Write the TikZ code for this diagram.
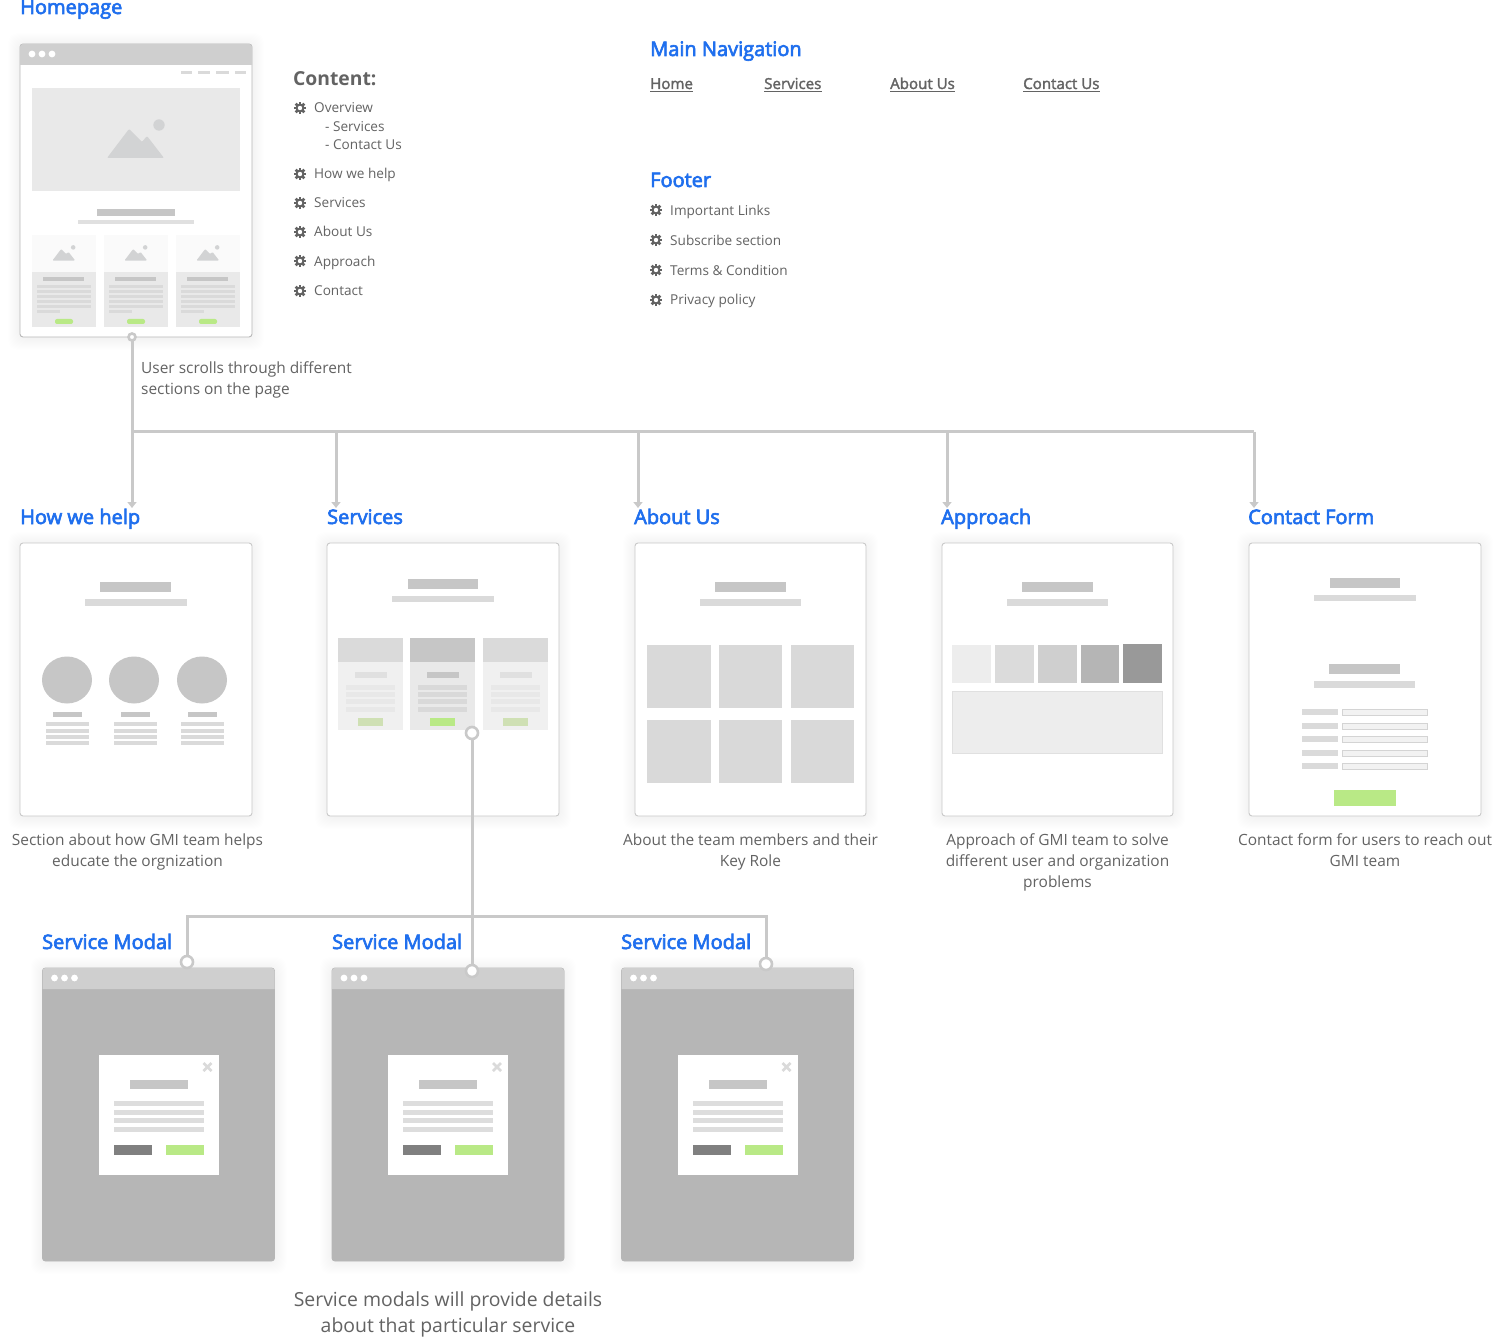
\documentclass[tikz,border=0pt]{standalone}
\usepackage{fontspec}
\setmainfont{Open Sans}
\newfontfamily\headfont[FakeBold=3.2]{Open Sans}
\newfontfamily\navfont[FakeBold=2]{Open Sans}
\usetikzlibrary{arrows.meta,calc}
\definecolor{headblue}{HTML}{1F6FEE}
\definecolor{bodytext}{HTML}{636363}
\definecolor{conn}{HTML}{C9C9C9}
\definecolor{bar}{HTML}{CFCFCF}
\definecolor{titlegrey}{HTML}{C6C6C6}
\definecolor{subgrey}{HTML}{DADADA}
\definecolor{linegrey}{HTML}{DDDDDD}
\definecolor{hero}{HTML}{E9E9E9}
\definecolor{mount}{HTML}{D2D3D4}
\definecolor{wfgreen}{HTML}{B9E986}
\definecolor{palegreen}{HTML}{CFE0B4}
\definecolor{dim}{HTML}{B6B6B6}
\tikzset{
  framebox/.style={draw=#1,fill=white,rounded corners=3pt,line width=0.9pt,inner sep=0pt,outer sep=0pt},
  framebox/.default={conn},
  head/.style={anchor=base west,inner sep=0pt,text=headblue,font=\headfont\fontsize{20}{24}\selectfont},
  body/.style={anchor=base west,inner sep=0pt,text=bodytext,font=\fontsize{13.6}{17}\selectfont},
  para/.style={anchor=base,inner sep=0pt,text=bodytext,font=\fontsize{15.45}{19}\selectfont},
  navlink/.style={anchor=base west,inner sep=0pt,text=bodytext,font=\navfont\fontsize{15.1}{18}\selectfont},
  port/.style={circle,draw=conn,fill=white,line width=2.6pt,inner sep=0pt,outer sep=0pt,minimum size=#1},
  wire/.style={draw=conn,line width=3pt},
  arrowwire/.style={wire,-{Triangle[width=9pt,length=6pt]}},
}
\newcount\tcnt
\newcommand{\lab}[4]{\global\advance\tcnt by 1 \node[#1] (txt\the\tcnt) at (#2,#3) {#4};}
\newcommand{\RR}[5]{\fill[#5] (#1,#2) rectangle (#3,#4);}
% frame: name, x, y, w, h, stroke
\newcommand{\wf}[6][conn]{%
  \begin{scope}[shift={(#3,#4)}]
    \foreach \s in {1,...,12}{\fill[black,opacity=0.004,rounded corners=10pt] (-\s,-\s+1) rectangle (#5+\s,#6+\s+1);}
    \node[framebox=#1,minimum width=#5pt,minimum height=#6pt] (#2) at (#5/2,#6/2) {};
  \end{scope}}
\newcommand{\windowbar}[3]{%
  \begin{scope}[shift={(#1,#2)}]
    \fill[bar] (0,21) [rounded corners=3pt] -- (0,0) -- (#3,0) [sharp corners] -- (#3,21) -- cycle;
    \foreach \d in {12,22,32}{\fill[white] (\d,10) circle[radius=3.4];}
  \end{scope}}
\newcommand{\mountain}[3]{%
  \begin{scope}[shift={(#1,#2)},scale=#3]
    \fill[mount,rounded corners=1pt] (-29,19) -- (-7,-10) -- (6,3) -- (11,-3) -- (28,19) -- cycle;
    \fill[mount] (23,-14) circle[radius=5.7];
  \end{scope}}
\newcommand{\homecard}[1]{%
  \begin{scope}[shift={(#1,0)}]
    \RR{0}{235}{64}{272}{fill=black!2}
    \mountain{32}{253}{0.4}
    \RR{0}{272}{64}{327}{hero}
    \RR{11}{277}{52}{281}{titlegrey}
    \foreach \ly in {285,290,295,300,305}{\RR{5}{\ly}{59}{\ly+3}{subgrey}}
    \RR{5}{310}{28}{313}{subgrey}
    \fill[wfgreen,rounded corners=2pt] (23,319) rectangle (41,324);
  \end{scope}}
\newcommand{\svccard}[6]{% x head body title lines button
  \begin{scope}[shift={(#1,0)}]
    \RR{0}{638}{65}{662}{#2}
    \RR{0}{662}{65}{730}{#3}
    \RR{16.5}{672}{49}{678}{#4}
    \foreach \ly in {685,692,699,707}{\RR{8}{\ly}{57}{\ly+5}{#5}}
    \RR{20}{718}{45}{726}{#6}
  \end{scope}}
\newcommand{\modal}[1]{%
  \wf[dim]{#1}{\mx}{968}{232}{293}
  \begin{scope}[shift={(\mx,0)}]
    \fill[dim,rounded corners=3pt] (0,968) rectangle (232,1261);
    \windowbar{0}{968}{232}
    \RR{56}{1055}{176}{1175}{white}
    \draw[subgrey,line width=2.6pt] (161,1063) -- (169,1071) (169,1063) -- (161,1071);
    \RR{87}{1080}{145}{1089}{titlegrey}
    \foreach \ly in {1101,1110,1118,1127}{\RR{71}{\ly}{161}{\ly+5}{linegrey}}
    \RR{71}{1145}{109}{1155}{black!50}
    \RR{123}{1145}{161}{1155}{wfgreen}
  \end{scope}}
\newcommand{\gear}[2]{%
  \begin{scope}[shift={(#1,#2)}]
    \foreach \a in {0,45,90,135}{\fill[bodytext,rotate=\a] (-1.4,-6.1) rectangle (1.4,6.1);}
    \fill[bodytext] (0,0) circle[radius=4.5];
    \fill[white] (0,0) circle[radius=2.2];
  \end{scope}}
\begin{document}
\begin{tikzpicture}[x=1pt,y=-1pt]
\useasboundingbox (0,0) rectangle (1500,1337);
\fill[white] (0,0) rectangle (1500,1337);

% ---- Homepage
\lab{head}{20}{14}{Homepage}
\wf[black!28]{home}{20}{44}{232}{293}
\windowbar{20}{44}{232}
\foreach \a/\b in {181/192,198/210,216/229,235/246}{\RR{\a}{71}{\b}{74}{subgrey}}
\RR{32}{88}{240}{191}{hero}
\mountain{136}{139}{1}
\RR{97}{209}{175}{216}{titlegrey}
\RR{78}{220}{194}{224}{black!12}
\homecard{32}\homecard{104}\homecard{176}

% ---- Content list
\lab{head,text=bodytext,font=\bfseries\fontsize{19.3}{24}\selectfont}{293}{85.5}{Content:}
\foreach \gy in {108,174,203,232,261,291}{\gear{300}{\gy}}
\lab{body}{314}{113}{Overview}
\lab{body}{325}{131.5}{- Services}
\lab{body}{325}{149.5}{- Contact Us}
\lab{body}{314}{178.5}{How we help}
\lab{body}{314}{207.5}{Services}
\lab{body}{314}{236.5}{About Us}
\lab{body}{314}{266.5}{Approach}
\lab{body}{314}{295.5}{Contact}

% ---- Main navigation
\lab{head}{650}{56}{Main Navigation}
\node[navlink] (navhome) at (650,89) {Home};
\node[navlink] (navserv) at (764,89) {Services};
\node[navlink] (navabout) at (890,89) {About Us};
\node[navlink] (navcontact) at (1023,89) {Contact Us};
\foreach \n in {navhome,navserv,navabout,navcontact}{
  \draw[bodytext,line width=0.9pt] ([yshift=-2.6pt]\n.base west) -- ([yshift=-2.6pt]\n.base east);}

% ---- Footer
\lab{head}{650}{187}{Footer}
\foreach \gy in {210,240,270,300}{\gear{656}{\gy}}
\lab{body}{670}{215.5}{Important Links}
\lab{body}{670}{245.5}{Subscribe section}
\lab{body}{670}{275.5}{Terms \& Condition}
\lab{body}{670}{304.5}{Privacy policy}

% ---- Second row frames
\wf{fhelp}{20}{543}{232}{273}
\wf{fserv}{327}{543}{232}{273}
\wf{fabout}{635}{543}{231}{273}
\wf{fappr}{942}{543}{231}{273}
\wf{fcont}{1249}{543}{232}{273}

% How we help
\RR{100}{582}{171}{592}{titlegrey}
\RR{85}{599}{187}{606}{subgrey}
\foreach \cx/\tx/\lx in {67/53/46,134/121/113.5,202/188/181}{
  \fill[titlegrey] (\cx,680) ellipse[x radius=25,y radius=23.5];
  \RR{\tx}{712}{\tx+29}{717}{titlegrey}
  \foreach \ly in {722,729,735,741}{\RR{\lx}{\ly}{\lx+43}{\ly+4}{subgrey}}
}

% Services
\RR{408}{579}{478}{589}{titlegrey}
\RR{392}{596}{494}{602}{subgrey}
\svccard{338}{subgrey}{black!6}{black!12}{black!9}{palegreen}
\svccard{410}{titlegrey}{hero}{titlegrey}{black!15}{wfgreen}
\svccard{483}{subgrey}{black!6}{black!12}{black!9}{palegreen}

% About
\RR{715}{582}{786}{592}{titlegrey}
\RR{700}{599}{801}{606}{subgrey}
\foreach \ax/\bx in {647/711,719/782,791/854}{
  \RR{\ax}{645}{\bx}{708}{black!15}
  \RR{\ax}{720}{\bx}{783}{black!15}
}

% Approach
\RR{1022}{582}{1093}{592}{titlegrey}
\RR{1007}{599}{1108}{606}{subgrey}
\RR{952}{645}{991}{683}{black!7}
\RR{995}{645}{1034}{683}{black!14}
\RR{1038}{645}{1077}{683}{black!19}
\RR{1081}{645}{1119}{683}{black!29}
\RR{1123}{644}{1162}{683}{black!40}
\filldraw[fill=black!7,draw=black!12,line width=0.8pt] (952,691) rectangle (1162,753);

% Contact
\RR{1330}{578}{1400}{588}{titlegrey}
\RR{1314}{595}{1416}{601}{subgrey}
\RR{1329}{664}{1400}{674}{titlegrey}
\RR{1314}{681}{1415}{688}{subgrey}
\foreach \ly in {709,723,736,750,763}{
  \RR{1302}{\ly}{1338}{\ly+6}{subgrey}
  \filldraw[fill=black!5,draw=black!17,line width=0.8pt] (1342,\ly) rectangle (1427,\ly+6);
}
\RR{1334}{790}{1396}{806}{wfgreen}

% Second row headings
\lab{head}{20}{524}{How we help}
\lab{head}{327}{524}{Services}
\lab{head}{634}{524}{About Us}
\lab{head}{941}{524}{Approach}
\lab{head}{1248}{524}{Contact Form}

% Captions (base is the last line)
\lab{para,align=center}{137.5}{866}{Section about how GMI team helps\\[2pt]educate the orgnization}
\lab{para,align=center}{750.5}{866}{About the team members and their\\[2pt]Key Role}
\lab{para,align=center}{1057.5}{887.5}{Approach of GMI team to solve\\[2pt]different user and organization\\[2pt]problems}
\lab{para,align=center}{1365}{866}{Contact form for users to reach out\\[2pt]GMI team}
\lab{para,anchor=base west,align=left}{141}{394.5}{User scrolls through different\\[2pt]sections on the page}

% ---- Modals
\def\mx{42.5}\modal{m1}
\def\mx{332}\modal{m2}
\def\mx{621.5}\modal{m3}
\lab{head}{42}{949}{Service Modal}
\lab{head}{332}{949}{Service Modal}
\lab{head}{621}{949}{Service Modal}
\lab{para,font=\fontsize{19.4}{24}\selectfont,align=center}{448}{1332}{Service modals will provide details\\[2pt]about that particular service}

% ---- Connectors
\coordinate (bus0) at (132,432);
\coordinate (bus1) at (336,432);
\coordinate (bus2) at (638,432);
\coordinate (bus3) at (947,432);
\coordinate (bus4) at (1254,432);
\coordinate (to0) at (132,508);
\coordinate (to1) at (336,508);
\coordinate (to2) at (638,508);
\coordinate (to3) at (947,508);
\coordinate (to4) at (1254,508);
\node[port=7pt] (phome) at (132,337) {};
\draw[arrowwire] (phome) -- (to0);
\draw[wire] (bus0) -- (bus4);
\draw[arrowwire] (bus4) -- (to4);
\draw[arrowwire] (bus1) -- (to1);
\draw[arrowwire] (bus2) -- (to2);
\draw[arrowwire] (bus3) -- (to3);

\node[port=12pt] (pserv) at (472,733) {};
\node[port=12pt] (pm1) at (187,962) {};
\node[port=12pt] (pm2) at (472,971) {};
\node[port=12pt] (pm3) at (766,964) {};
\coordinate (mbus1) at (187,916);
\coordinate (mbus3) at (766,916);
\draw[wire,line join=miter] (pm1) -- (mbus1) -- (mbus3) -- (pm3);
\draw[wire] (pserv) -- (pm2);
\end{tikzpicture}
\end{document}
